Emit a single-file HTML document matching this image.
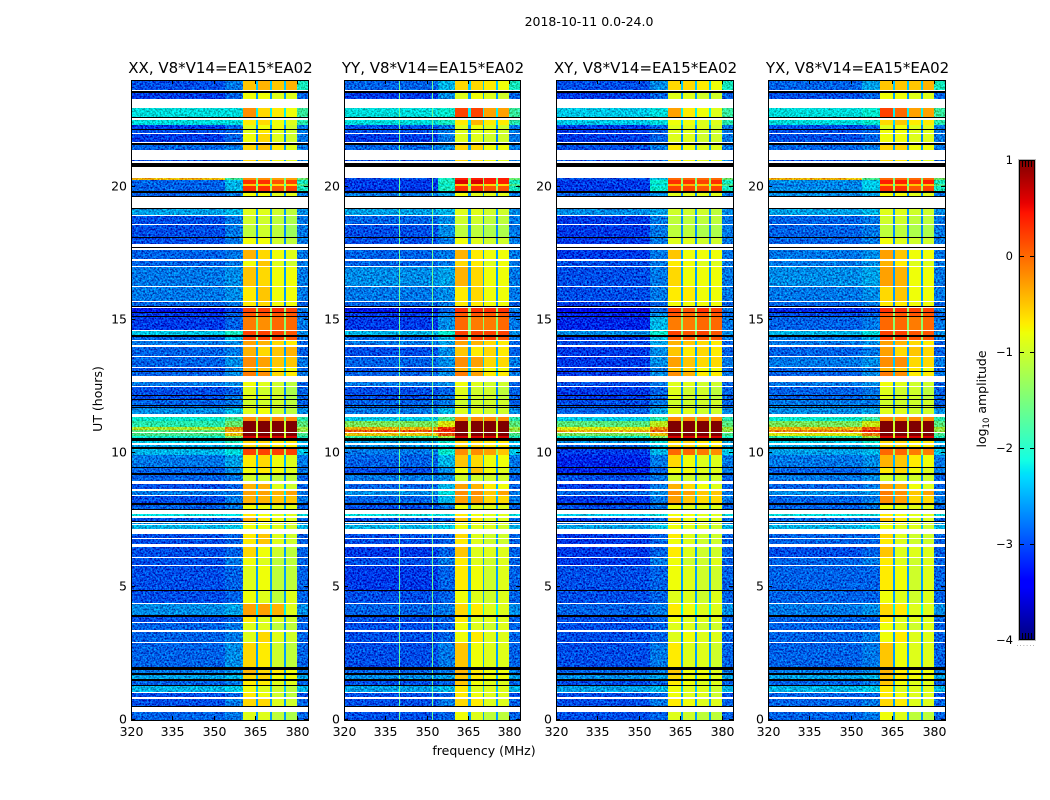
<!DOCTYPE html>
<html lang="en">
<head>
<meta charset="utf-8">
<title>2018-10-11 0.0-24.0</title>
<style>
html,body{margin:0;padding:0;background:#fff;width:1050px;height:800px;overflow:hidden}
svg{display:block}
text{font-family:"DejaVu Sans","Liberation Sans",sans-serif;fill:#000}
</style>
</head>
<body>
<svg id="figure" xmlns="http://www.w3.org/2000/svg" width="1050" height="800" viewBox="0 0 1050 800">
  <defs>
    <filter id="speckle" x="0" y="0" width="1050" height="800" filterUnits="userSpaceOnUse" color-interpolation-filters="sRGB">
      <feTurbulence type="fractalNoise" baseFrequency="0.55" numOctaves="2" seed="7" result="n"/>
      <feColorMatrix in="n" type="matrix" values="0.4 0 0 0 0.3  2 0 0 0 -0.5  2 0 0 0 -0.5  0 0 0 0 1" result="g"/>
      <feComposite in="SourceGraphic" in2="g" operator="arithmetic" k1="0" k2="1" k3="0.6" k4="-0.39" result="m"/>
      <feComposite in="m" in2="SourceAlpha" operator="in"/>
    </filter>
  </defs>
  <text x="589" y="26" font-size="12.5" text-anchor="middle">2018-10-11 0.0-24.0</text>
  <text x="484" y="755" font-size="12.5" text-anchor="middle">frequency (MHz)</text>
  <text transform="translate(102,399) rotate(-90)" font-size="12.5" text-anchor="middle">UT (hours)</text>
  <text transform="translate(986,399) rotate(-90)" font-size="12.5" text-anchor="middle">log<tspan font-size="8.5" dy="3">10</tspan><tspan dy="-3"> amplitude</tspan></text>
  <g id="panels"></g>
  <g id="colorbar"></g>
</svg>
<script>
// ---------- Data (levels are log10 amplitude x 10) ----------
const panelTitles = ["XX, V8*V14=EA15*EA02","YY, V8*V14=EA15*EA02","XY, V8*V14=EA15*EA02","YX, V8*V14=EA15*EA02"];
const xTicks = [320,335,350,365,380];
const yTicks = [0,5,10,15,20];
const cbarTicks = [1,0,-1,-2,-3,-4];
// frequency channel groups (MHz): low, edge, band1, gap, band2, gap, band3, gap, band4, right
const freqEdges = [320,354,360.5,365.1,366,370.4,371,375.4,375.9,380,384];
// UT intervals (hours) of recorded integrations; anything else is left blank
const rowSpans = [[24,23.625],[23.513,23.306],[22.95,22.613],[22.5,22.313],[22.313,22.163],[22.125,22.013],[21.975,21.675],[21.581,21.375],[21,20.944],[20.325,20.25],[20.25,20.1],[20.1,20.025],[20.025,19.838],[19.763,19.65],[19.163,18.938],[18.9,18.6],[18.563,18.113],[18.075,17.85],[17.625,17.288],[17.231,17.025],[16.988,16.275],[16.238,15.713],[15.675,15.525],[15.45,15.3],[15.263,15.15],[15.113,14.625],[14.588,14.419],[14.381,14.25],[14.213,14.044],[14.006,13.65],[13.613,13.238],[13.2,13.069],[13.039,12.9],[12.675,12.525],[12.488,12.169],[12.139,12.056],[12.026,11.813],[11.775,11.738],[11.7,11.475],[11.344,11.213],[11.213,10.988],[10.988,10.875],[10.875,10.8],[10.763,10.65],[10.65,10.575],[10.463,10.369],[10.313,10.256],[10.163,9.938],[9.938,9.488],[9.45,9.263],[9.188,8.963],[8.85,8.663],[8.588,8.438],[8.4,8.138],[8.081,7.931],[7.725,7.65],[7.575,7.463],[7.388,7.35],[7.313,7.163],[6.975,6.825],[6.788,6.6],[6.488,6.113],[6.075,5.813],[5.775,4.875],[4.838,4.388],[4.35,3.919],[3.863,3.675],[3.638,3.375],[3.3,2.925],[2.888,1.988],[1.875,1.763],[1.688,1.519],[1.463,1.313],[1.275,1.05],[1.013,.863],[.788,.525],[.3,0]];
// UT intervals (hours) drawn black
const flaggedSpans = [[23.569,23.513],[22.613,22.575],[22.163,22.125],[21.638,21.581],[20.906,20.738],[19.838,19.763],[19.65,19.613],[19.2,19.163],[18.113,18.075],[17.738,17.7],[15.525,15.488],[15.3,15.263],[15.15,15.113],[14.419,14.381],[13.069,13.039],[12.169,12.139],[12.056,12.026],[11.813,11.775],[11.738,11.7],[10.575,10.463],[10.256,10.163],[9.488,9.45],[9.263,9.188],[8.138,8.081],[7.931,7.875],[7.463,7.425],[4.875,4.838],[3.919,3.863],[1.988,1.875],[1.763,1.688],[1.519,1.463],[1.313,1.275],[.525,.488]];
// one value per row: level between the sub-bands, and above 380 MHz
const gapLevels = [-24,-26,-22,-23,-27,-27,-27,-26,-26,-16,-12,-19,-12,-27,-26,-27,-27,-27,-26,-26,-26,-26,-27,-14,-14,-14,-14,-14,-24,-26,-24,-24,-24,-27,-27,-27,-27,-27,-26,-16,-10,-10,-10,-10,-10,-22,-22,-13,-25,-26,-27,-25,-22,-25,-26,-22,-26,-25,-24,-26,-26,-26,-26,-26,-26,-22,-26,-26,-26,-26,-26,-25,-26,-24,-26,-26,-26];
const rightLevels = [-20,-28,-18,-19,-27,-27,-27,-27,-27,-15,-20,-17,-20,-27,-26,-27,-27,-27,-27,-27,-27,-27,-28,-27,-28,-27,-26,-27,-28,-28,-27,-28,-27,-28,-28,-28,-28,-28,-26,-19,-16,-12,-13,-17,-20,-24,-25,-23,-27,-27,-28,-28,-27,-27,-28,-22,-28,-26,-24,-28,-28,-28,-28,-28,-28,-26,-28,-28,-28,-28,-27,-25,-28,-24,-29,-28,-28];
// [low, edge, band1, band2, band3, band4] per row
const levelsXX = [[-29,-27,-5,-4,-5,-4],[-30,-28,-8,-8,-9,-9],[-22,-22,-2,-6,-7,-8],[-22,-22,-7,-6,-8,-9],[-30,-28,-9,-8,-8,-10],[-29,-28,-9,-7,-9,-10],[-30,-28,-8,-6,-9,-10],[-28,-27,-6,-5,-7,-9],[-29,-28,-6,-6,-8,-9],[-5,-18,-2,-2,-3,-3],[-28,-24,3,3,1,2],[-28,-24,-5,-5,-6,-6],[-28,-24,3,3,1,2],[-28,-27,-8,-8,-9,-9],[-25,-24,-9,-9,-10,-11],[-29,-27,-10,-10,-11,-12],[-29,-27,-11,-10,-11,-13],[-29,-27,-8,-8,-10,-11],[-28,-27,-4,-6,-8,-9],[-28,-27,-8,-5,-9,-10],[-27,-26,-5,-6,-8,-8],[-27,-26,-7,-5,-8,-8],[-28,-27,-7,-6,-8,-8],[-32,-30,2,2,3,2],[-30,-28,1,1,1,1],[-30,-28,-1,-2,0,0],[-23,-20,2,2,2,1],[-28,-24,2,2,2,1],[-27,-26,-3,-4,-6,-7],[-28,-27,-4,-6,-5,-4],[-28,-26,-2,-3,-5,-5],[-29,-27,-4,-5,-7,-8],[-28,-26,-1,-2,-6,-7],[-27,-26,-8,-9,-10,-11],[-29,-28,-9,-10,-10,-12],[-29,-27,-9,-9,-10,-12],[-28,-27,-10,-10,-10,-11],[-28,-27,-9,-9,-10,-11],[-26,-24,-9,-8,-10,-11],[-21,-18,-2,-2,-2,-2],[-19,-15,10,10,10,10],[-11,-3,10,10,10,10],[-16,-5,10,10,10,10],[-17,-6,10,10,10,10],[-21,-14,6,6,6,6],[-23,-20,-6,-6,-7,-7],[-25,-23,-6,-6,-7,-7],[-24,-22,2,2,2,2],[-27,-25,-7,-6,-8,-9],[-28,-26,-8,-7,-8,-9],[-28,-27,-10,-10,-11,-11],[-29,-28,-4,-4,-9,-10],[-27,-27,-3,-3,-4,-3],[-29,-27,-4,-4,-5,-5],[-28,-27,-8,-8,-9,-9],[-22,-22,-7,-8,-9,-9],[-29,-28,-4,-7,-8,-9],[-26,-25,-8,-8,-9,-9],[-24,-23,-8,-8,-9,-10],[-29,-28,-7,-5,-9,-10],[-29,-28,-7,-5,-9,-10],[-29,-28,-6,-8,-10,-11],[-29,-27,-8,-9,-11,-11],[-29,-28,-9,-8,-11,-11],[-29,-28,-8,-9,-11,-9],[-26,-25,-3,-3,-4,-9],[-29,-28,-7,-9,-9,-10],[-28,-27,-9,-9,-11,-11],[-28,-27,-9,-6,-9,-10],[-28,-26,-6,-7,-10,-11],[-27,-26,-4,-6,-7,-8],[-25,-24,-6,-6,-8,-8],[-28,-27,-7,-7,-9,-9],[-24,-23,-8,-9,-10,-11],[-29,-28,-7,-8,-10,-11],[-29,-27,-6,-6,-9,-10],[-28,-27,-9,-9,-11,-12]];
const levelsYY = [[-28,-24,-6,-6,-7,-8],[-30,-26,-9,-8,-9,-10],[-22,-21,2,2,-3,-3],[-22,-20,-7,-4,-7,-7],[-29,-27,-9,-8,-9,-10],[-29,-27,-9,-9,-9,-10],[-30,-27,-9,-9,-10,-10],[-28,-26,-6,-6,-8,-8],[-29,-27,-6,-7,-8,-9],[-29,-20,4,4,4,4],[-30,-20,6,6,4,4],[-30,-21,-5,-5,-6,-6],[-30,-20,3,3,1,1],[-27,-25,-8,-9,-9,-9],[-25,-24,-9,-9,-10,-10],[-28,-26,-10,-10,-11,-11],[-29,-26,-11,-11,-12,-12],[-29,-27,-8,-9,-10,-10],[-28,-27,-4,-7,-8,-8],[-28,-27,-6,-7,-9,-8],[-26,-25,-4,-6,-8,-8],[-27,-26,-7,-6,-8,-8],[-28,-27,-7,-7,-8,-8],[-32,-28,3,3,3,3],[-30,-27,1,1,1,1],[-30,-26,0,-1,-1,0],[-24,-21,2,2,2,2],[-28,-24,2,2,2,1],[-27,-25,-3,-4,-6,-7],[-29,-26,-5,-7,-6,-7],[-28,-26,-2,-3,-6,-6],[-29,-27,-4,-6,-8,-8],[-28,-26,-1,-3,-7,-7],[-27,-26,-8,-9,-10,-10],[-29,-28,-9,-10,-10,-11],[-29,-27,-9,-10,-10,-11],[-28,-27,-10,-10,-10,-10],[-28,-27,-9,-10,-10,-10],[-27,-24,-9,-9,-10,-10],[-23,-17,-2,-2,-2,-2],[-14,-8,10,10,10,10],[-5,2,10,10,10,10],[0,3,10,10,10,10],[-6,0,10,10,10,10],[-18,-12,6,6,6,6],[-25,-21,-6,-6,-7,-7],[-26,-23,-6,-6,-7,-7],[-27,-21,-2,-2,-3,-5],[-28,-24,-5,-6,-8,-8],[-29,-26,-8,-5,-8,-9],[-27,-26,-10,-10,-10,-10],[-28,-24,-3,-4,-7,-8],[-26,-22,-2,-2,-5,-3],[-28,-24,-3,-3,-6,-6],[-29,-27,-8,-9,-9,-9],[-22,-22,-7,-8,-9,-9],[-29,-28,-5,-7,-9,-9],[-26,-25,-8,-8,-9,-9],[-24,-23,-8,-9,-9,-10],[-29,-28,-6,-9,-10,-10],[-29,-28,-7,-9,-10,-10],[-30,-28,-5,-9,-9,-9],[-29,-27,-7,-9,-10,-9],[-30,-28,-7,-8,-10,-9],[-29,-28,-8,-9,-10,-9],[-28,-27,-6,-7,-9,-9],[-29,-28,-7,-9,-9,-9],[-29,-28,-8,-9,-10,-9],[-29,-28,-8,-7,-9,-9],[-29,-27,-5,-8,-9,-9],[-28,-27,-4,-7,-8,-8],[-26,-25,-5,-7,-8,-8],[-29,-28,-5,-8,-9,-9],[-25,-24,-7,-9,-9,-9],[-29,-28,-7,-8,-9,-9],[-29,-27,-6,-7,-9,-9],[-29,-28,-8,-9,-11,-11]];
const levelsXY = [[-29,-26,-6,-6,-7,-8],[-30,-28,-9,-9,-10,-10],[-23,-22,-3,-7,-8,-9],[-23,-22,-8,-8,-9,-9],[-30,-28,-9,-9,-9,-10],[-30,-28,-9,-9,-10,-10],[-30,-28,-9,-9,-10,-10],[-29,-27,-7,-8,-9,-9],[-29,-28,-7,-8,-9,-9],[-29,-23,0,0,0,0],[-30,-21,3,3,2,3],[-30,-22,-4,-4,-5,-5],[-30,-21,2,2,1,2],[-28,-26,-9,-9,-9,-9],[-26,-25,-10,-10,-10,-11],[-30,-27,-11,-11,-11,-11],[-30,-27,-11,-11,-12,-12],[-30,-27,-9,-9,-10,-10],[-30,-27,-5,-8,-8,-8],[-29,-27,-7,-8,-9,-9],[-29,-27,-6,-8,-8,-8],[-29,-27,-7,-7,-8,-8],[-30,-28,-8,-8,-8,-8],[-33,-28,2,1,3,2],[-31,-26,1,0,1,1],[-31,-24,-1,-1,0,0],[-26,-21,2,1,2,1],[-30,-24,1,1,1,1],[-29,-25,-4,-5,-6,-7],[-30,-26,-5,-7,-6,-7],[-30,-26,-3,-5,-6,-6],[-30,-27,-5,-6,-8,-8],[-30,-26,-2,-4,-7,-7],[-29,-27,-9,-9,-10,-10],[-30,-28,-9,-10,-10,-11],[-30,-28,-9,-10,-10,-11],[-29,-27,-10,-10,-10,-10],[-29,-27,-9,-10,-10,-10],[-28,-25,-9,-9,-10,-10],[-23,-19,-2,-2,-2,-2],[-16,-10,10,10,10,10],[-8,-3,10,10,10,10],[-5,-1,10,10,10,10],[-14,-6,10,10,10,10],[-21,-14,6,6,6,6],[-26,-22,-6,-6,-7,-7],[-28,-24,-6,-6,-7,-7],[-30,-24,0,0,-1,-2],[-31,-27,-6,-8,-9,-9],[-31,-28,-8,-8,-9,-9],[-29,-27,-10,-10,-10,-10],[-30,-27,-4,-6,-8,-9],[-28,-26,-2,-3,-5,-5],[-30,-27,-3,-5,-6,-6],[-29,-27,-8,-9,-9,-9],[-23,-22,-8,-8,-9,-9],[-30,-28,-6,-8,-9,-9],[-27,-25,-8,-8,-9,-9],[-25,-23,-8,-9,-9,-10],[-30,-28,-7,-9,-10,-10],[-30,-28,-8,-9,-10,-10],[-30,-28,-7,-9,-10,-10],[-30,-27,-8,-10,-10,-9],[-29,-28,-8,-9,-10,-10],[-29,-28,-9,-9,-10,-9],[-28,-27,-7,-8,-9,-9],[-29,-28,-8,-9,-9,-9],[-29,-28,-9,-9,-10,-10],[-29,-28,-9,-8,-9,-9],[-29,-27,-7,-9,-9,-10],[-28,-27,-5,-8,-8,-9],[-26,-25,-6,-8,-8,-9],[-29,-28,-7,-8,-9,-9],[-25,-24,-8,-9,-9,-10],[-29,-28,-8,-9,-9,-10],[-29,-27,-7,-8,-9,-9],[-29,-28,-9,-10,-11,-11]];
const levelsYX = [[-28,-25,-5,-5,-5,-4],[-29,-28,-8,-8,-9,-9],[-22,-21,2,0,-3,-3],[-22,-21,-6,-5,-7,-7],[-29,-28,-9,-8,-9,-9],[-29,-28,-8,-8,-9,-9],[-29,-28,-8,-8,-9,-9],[-28,-27,-6,-6,-8,-8],[-29,-27,-6,-7,-8,-9],[-5,-17,0,0,0,0],[-26,-23,4,4,3,4],[-27,-23,-4,-4,-5,-5],[-26,-23,3,3,1,2],[-26,-25,-8,-8,-9,-9],[-25,-24,-9,-9,-10,-10],[-28,-27,-10,-10,-11,-11],[-28,-27,-11,-11,-12,-12],[-28,-27,-8,-9,-10,-10],[-27,-26,-3,-5,-8,-8],[-27,-26,-4,-7,-9,-9],[-26,-25,-3,-4,-8,-8],[-27,-26,-6,-5,-8,-8],[-28,-27,-7,-7,-8,-8],[-31,-30,3,3,2,2],[-29,-28,1,1,1,1],[-28,-27,0,0,-1,0],[-24,-22,2,2,1,1],[-27,-25,2,2,1,1],[-27,-26,-3,-4,-6,-7],[-28,-27,-3,-6,-5,-6],[-27,-26,-2,-2,-6,-6],[-28,-27,-4,-5,-7,-8],[-28,-26,-1,-2,-7,-7],[-27,-26,-8,-9,-10,-10],[-28,-27,-9,-10,-10,-11],[-28,-27,-9,-10,-10,-11],[-27,-27,-10,-10,-10,-10],[-27,-27,-9,-10,-10,-10],[-26,-25,-9,-9,-10,-10],[-21,-18,-2,-2,-2,-2],[-14,-9,10,10,10,10],[-5,0,10,10,10,10],[-2,3,10,10,10,10],[-8,-2,10,10,10,10],[-19,-12,6,6,6,6],[-23,-21,-6,-6,-7,-7],[-25,-23,-6,-6,-7,-7],[-25,-24,0,0,-1,-1],[-27,-26,-4,-5,-7,-8],[-28,-27,-7,-6,-8,-9],[-27,-26,-10,-10,-10,-10],[-28,-27,-3,-4,-8,-9],[-26,-26,-1,-2,-5,-3],[-28,-27,-2,-3,-6,-6],[-28,-27,-8,-9,-9,-9],[-22,-22,-7,-8,-9,-9],[-28,-28,-5,-7,-9,-9],[-26,-25,-8,-8,-9,-9],[-24,-23,-8,-9,-9,-10],[-28,-28,-6,-9,-10,-10],[-28,-28,-7,-9,-10,-10],[-29,-28,-5,-9,-9,-9],[-28,-27,-7,-9,-10,-9],[-28,-28,-7,-8,-10,-9],[-28,-28,-8,-9,-10,-9],[-27,-26,-6,-7,-9,-9],[-28,-28,-7,-9,-9,-9],[-28,-28,-8,-9,-10,-9],[-28,-27,-8,-7,-9,-9],[-28,-27,-5,-8,-9,-9],[-27,-26,-4,-7,-8,-8],[-25,-24,-5,-7,-8,-8],[-28,-27,-5,-8,-9,-9],[-24,-23,-7,-9,-9,-9],[-28,-28,-7,-8,-9,-9],[-28,-27,-6,-7,-9,-9],[-28,-27,-8,-9,-11,-11]];
const panelLevels = [levelsXX,levelsYY,levelsXY,levelsYX];
// narrow interference channels (MHz) seen per panel, and their level
const rfiChannelsYY = [340,352];
const rfiChannelsByPanel = [[],rfiChannelsYY,[],[]];
const rfiLevel = -16;

// ---------- Layout and scales ----------
const NS = "http://www.w3.org/2000/svg";
const axesLeft = [131,344,556,768];
const axesWidth = [177,176,177,177];
const axesTop = 80, axesBottom = 720;
const freqMin = 320, freqMax = 384, utMin = 0, utMax = 24;
const xScale = (f,p) => axesLeft[p] + (f-freqMin)/(freqMax-freqMin)*axesWidth[p];
const yScale = h => axesBottom - (h-utMin)/(utMax-utMin)*(axesBottom-axesTop);
const cbarTop = 160, cbarBottom = 640, cbarMin = -4, cbarMax = 1;
const cbarY = v => cbarBottom - (v-cbarMin)/(cbarMax-cbarMin)*(cbarBottom-cbarTop);

function lerp(pts,t){
  for(let i=1;i<pts.length;i++){
    if(t<=pts[i][0]) return pts[i-1][1]+(pts[i][1]-pts[i-1][1])*(t-pts[i-1][0])/(pts[i][0]-pts[i-1][0]);
  }
  return pts[pts.length-1][1];
}
const jetR=[[0,0],[.35,0],[.66,1],[.89,1],[1,.5]];
const jetG=[[0,0],[.125,0],[.375,1],[.64,1],[.91,0],[1,0]];
const jetB=[[0,.5],[.11,1],[.34,1],[.65,0],[1,0]];
function jet(v){
  const t=Math.max(0,Math.min(1,(v-cbarMin)/(cbarMax-cbarMin)));
  const c=a=>Math.round(lerp(a,t)*255);
  return "rgb("+c(jetR)+","+c(jetG)+","+c(jetB)+")";
}
function make(tag,parent){const e=document.createElementNS(NS,tag);parent.appendChild(e);return e;}
function rectAt(e,x,y,w,h,fill){
  e.setAttribute("x",x);e.setAttribute("y",y);e.setAttribute("width",w);e.setAttribute("height",h);e.setAttribute("fill",fill);
  e.setAttribute("shape-rendering","crispEdges");
}
function lineAt(e,x1,y1,x2,y2){
  e.setAttribute("x1",x1);e.setAttribute("y1",y1);e.setAttribute("x2",x2);e.setAttribute("y2",y2);
  e.setAttribute("stroke","#000");e.setAttribute("stroke-width","1");e.setAttribute("shape-rendering","crispEdges");
}
function textAt(e,x,y,s,anchor,size){
  e.setAttribute("x",x);e.setAttribute("y",y);e.setAttribute("text-anchor",anchor);e.setAttribute("font-size",size);e.textContent=s;
}
const colGroup=[0,1,2,6,3,6,4,6,5,7]; // table column feeding each freq group
const panelsRoot=document.getElementById("panels");

panelTitles.forEach((title,p)=>{
  const g=make("g",panelsRoot);
  
  
  const L=axesLeft[p],W=axesWidth[p];
  const bg=make("rect",g);
  rectAt(bg,L,axesTop,W,axesBottom-axesTop,"#fff");
  
  
  const speck=make("g",g);
  speck.setAttribute("filter","url(#speckle)");
  
  
  const smooth=make("g",g);
  
  
  rowSpans.forEach((span,r)=>{
    const y0=Math.round(yScale(span[0])),y1=Math.round(yScale(span[1]));
    const vals=panelLevels[p][r];
    for(let c=0;c<freqEdges.length-1;c++){
      const k=colGroup[c];
      const raw=k<6?vals[k]:(k===6?gapLevels[r]:rightLevels[r]);
      const x0=Math.round(xScale(freqEdges[c],p)),x1=Math.round(xScale(freqEdges[c+1],p));
      const cell=make("rect",(c<2||c===9)?speck:smooth);
      rectAt(cell,x0,y0,x1-x0,Math.max(1,y1-y0),jet(raw/10));
      
      
    }
    rfiChannelsByPanel[p].forEach(f=>{
      const rc=make("rect",g);
      rectAt(rc,Math.round(xScale(f,p)),y0,1,Math.max(1,y1-y0),jet(rfiLevel/10));
      
      
    });
  });
  flaggedSpans.forEach(s=>{
    const y0=Math.round(yScale(s[0])),y1=Math.round(yScale(s[1]));
    const fl=make("rect",g);
    rectAt(fl,L,y0,W,Math.max(1,y1-y0),"#000");
    
    
  });
  const ttl=make("text",g);
  textAt(ttl,L+W/2+1,73,title,"middle",15);
  
  
  xTicks.forEach(t=>{
    const x=Math.round(xScale(t,p))+.5;
    const a=make("line",g);lineAt(a,x,axesBottom,x,axesBottom-4);
    
    
    const b=make("line",g);lineAt(b,x,axesTop,x,axesTop+4);
    
    
    const lb=make("text",g);textAt(lb,x,736,String(t),"middle",12.5);
    
    
  });
  yTicks.forEach(t=>{
    const y=Math.round(yScale(t))-.5;
    const a=make("line",g);lineAt(a,L,y,L+4,y);
    
    
    const b=make("line",g);lineAt(b,L+W,y,L+W-4,y);
    
    
    const lb=make("text",g);textAt(lb,L-4,y+4,String(t),"end",12.5);
    
    
  });
  const frame=make("rect",g);
  frame.setAttribute("x",L+.5);frame.setAttribute("y",axesTop+.5);
  frame.setAttribute("width",W);frame.setAttribute("height",axesBottom-axesTop);
  frame.setAttribute("fill","none");frame.setAttribute("stroke","#000");frame.setAttribute("shape-rendering","crispEdges");
  
  
});

// ---------- Colorbar ----------
const cb=document.getElementById("colorbar");
for(let y=cbarTop;y<cbarBottom;y++){
  const s=make("rect",cb);
  rectAt(s,1019,y,16,1,jet(cbarMax-(y+.5-cbarTop)/(cbarBottom-cbarTop)*(cbarMax-cbarMin)));
  
  
}
const cbOuter=make("rect",cb);
cbOuter.setAttribute("x",1018.5);cbOuter.setAttribute("y",159.5);cbOuter.setAttribute("width",17);cbOuter.setAttribute("height",481);
cbOuter.setAttribute("fill","none");cbOuter.setAttribute("stroke","#bbb");cbOuter.setAttribute("shape-rendering","crispEdges");


const cbInner=make("rect",cb);
cbInner.setAttribute("x",1019.5);cbInner.setAttribute("y",160.5);cbInner.setAttribute("width",15);cbInner.setAttribute("height",479);
cbInner.setAttribute("fill","none");cbInner.setAttribute("stroke","#000");cbInner.setAttribute("shape-rendering","crispEdges");


cbarTicks.forEach(v=>{
  const y=Math.round(cbarY(v));
  const ly=Math.min(639.5,Math.max(160.5,y+.5));
  [[1019,1024],[1030,1035]].forEach(seg=>{
    const t=make("line",cb);lineAt(t,seg[0],ly,seg[1],ly);
    
    
  });
  const lb=make("text",cb);
  textAt(lb,1013,y+4,(v<0?"\u2212":"")+Math.abs(v),"end",11.5);
  
  
});
[1022,1025,1028,1031].forEach(x=>{
  const a=make("line",cb);lineAt(a,x+.5,161,x+.5,167);
  
  
  const b=make("line",cb);lineAt(b,x+.5,633,x+.5,639);
  
  
});
const dots=make("text",cb);
textAt(dots,1026,648,"\u00b7\u00b7\u00b7\u00b7\u00b7\u00b7","middle",7);
dots.setAttribute("style","fill:#888;letter-spacing:1px");


</script>
</body>
</html>
